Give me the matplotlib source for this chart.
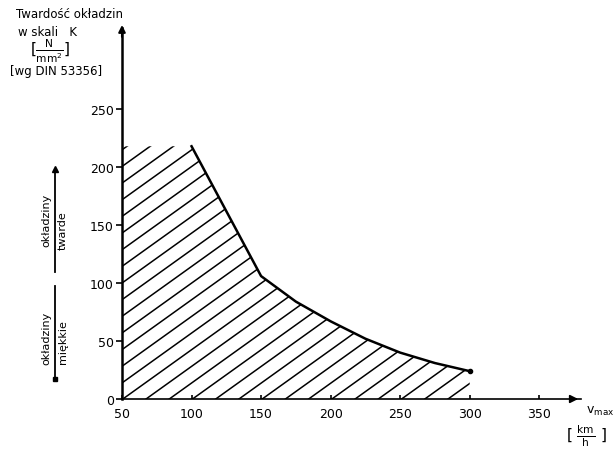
import numpy as np
import matplotlib
matplotlib.use("Agg")
import matplotlib.pyplot as plt
from matplotlib.patches import Polygon
from matplotlib.lines import Line2D

# data
v_max = [100, 125, 150, 175, 200, 225, 250, 275, 300]
hardness = [218, 162, 106, 84, 67, 52, 40, 31, 24]
x_ticks = [50, 100, 150, 200, 250, 300, 350]
y_ticks = [0, 50, 100, 150, 200, 250]
x_start = 50

W, H = 614, 452
fig = plt.figure(figsize=(W / 100, H / 100), dpi=100)
plt.rcParams['font.family'] = ['DejaVu Sans']

def fx(px):
    return px / W

def fy(py):
    return 1 - py / H

ax = fig.add_axes([fx(122), fy(400), (581 - 122) / W, (400 - 29) / H])
ax.set_xlim(50, 380)
ax.set_ylim(0, 320)
ax.patch.set_alpha(0)
for s in ['top', 'right']:
    ax.spines[s].set_visible(False)
ax.spines['left'].set_linewidth(1.8)
ax.spines['bottom'].set_linewidth(1.2)
ax.spines['left'].set_bounds(0, 320)

ax.set_xticks(x_ticks)
ax.set_yticks(y_ticks)
ax.tick_params(axis='y', direction='out', length=4, width=1.2, labelsize=9, pad=2)
ax.tick_params(axis='x', direction='in', length=3, width=1.2, labelsize=9, pad=6)

# arrows on axes
ax.annotate('', xy=(380, 0), xytext=(370, 0),
            arrowprops=dict(arrowstyle='-|>', color='black', lw=1.2, mutation_scale=12),
            annotation_clip=False)
ax.annotate('', xy=(50, 325), xytext=(50, 310),
            arrowprops=dict(arrowstyle='-|>', color='black', lw=1.5, mutation_scale=10),
            annotation_clip=False)

# region polygon
poly_x = [x_start] + v_max + [v_max[-1], x_start]
poly_y = [hardness[0]] + hardness + [0, 0]
patch = Polygon(np.column_stack([poly_x, poly_y]), closed=True, facecolor='none',
                edgecolor='none')
ax.add_patch(patch)

# hatch lines clipped by region
slope = 0.86
spacing = 16.7
for x0 in np.arange(x_start - 300, 320, spacing):
    xs = np.array([x0, x0 + 400])
    ln = Line2D(xs, slope * (xs - x0), color='black', lw=1.1)
    ax.add_line(ln)
    ln.set_clip_path(patch)

ax.plot(v_max, hardness, color='black', lw=1.8, solid_joinstyle='round')
ax.plot([v_max[-1]], [hardness[-1]], 'o', color='black', ms=3)

# y-axis title
fig.text(fx(16), fy(14), 'Twardość okładzin', fontsize=8.5, ha='left', va='center')
fig.text(fx(18), fy(32), 'w skali   K', fontsize=8.5, ha='left', va='center')
fig.text(fx(50), fy(51), r'[$\frac{\mathrm{N}}{\mathrm{mm^2}}$]', fontsize=11, ha='center', va='center')
fig.text(fx(10), fy(72), '[wg DIN 53356]', fontsize=8.5, ha='left', va='center')

# x-axis title
fig.text(fx(586), fy(411), r'v$_{\mathrm{max}}$', fontsize=9, ha='left', va='center')
fig.text(fx(566), fy(436), r'[ $\frac{\mathrm{km}}{\mathrm{h}}$ ]', fontsize=11, ha='left', va='center')

# side annotations
fig.add_artist(Line2D([fx(55), fx(55)], [fy(273), fy(172)], transform=fig.transFigure,
                      color='black', lw=1.3))
fig.add_artist(Line2D([fx(55)], [fy(170)], transform=fig.transFigure, marker='^',
                      color='black', ms=4))
fig.text(fx(46), fy(220), 'okładziny', rotation=90, fontsize=8, ha='center', va='center')
fig.text(fx(63), fy(231), 'twarde', rotation=90, fontsize=8, ha='center', va='center')

fig.add_artist(Line2D([fx(55), fx(55)], [fy(287), fy(378)], transform=fig.transFigure,
                      color='black', lw=1.3))
fig.add_artist(Line2D([fx(55)], [fy(380)], transform=fig.transFigure, marker='s',
                      color='black', ms=3))
fig.text(fx(46), fy(338), 'okładziny', rotation=90, fontsize=8, ha='center', va='center')
fig.text(fx(63), fy(342), 'miękkie', rotation=90, fontsize=8, ha='center', va='center')

fig.savefig('out.png', dpi=100, facecolor='white')
